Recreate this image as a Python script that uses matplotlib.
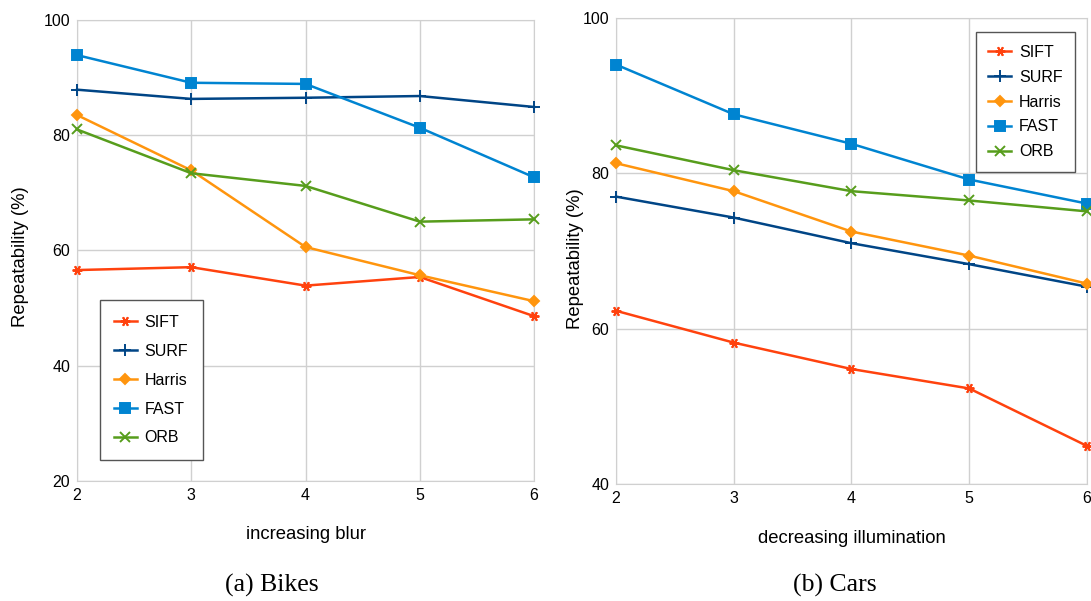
import matplotlib
matplotlib.use("Agg")
import matplotlib.pyplot as plt

plt.rcParams['font.family'] = ['Liberation Sans', 'DejaVu Sans']

x = [2, 3, 4, 5, 6]
names = ["SIFT", "SURF", "Harris", "FAST", "ORB"]

# repeatability (%) per detector, bikes sequence (blur)
bikes_sift = [56.6, 57.1, 53.9, 55.4, 48.6]
bikes_surf = [87.9, 86.3, 86.5, 86.8, 84.9]
bikes_harris = [83.5, 73.9, 60.6, 55.7, 51.2]
bikes_fast = [93.9, 89.1, 88.9, 81.3, 72.7]
bikes_orb = [81.0, 73.4, 71.2, 65.0, 65.4]

# cars sequence (illumination)
cars_sift = [62.3, 58.2, 54.8, 52.3, 44.9]
cars_surf = [77.0, 74.3, 71.0, 68.3, 65.4]
cars_harris = [81.3, 77.7, 72.5, 69.4, 65.8]
cars_fast = [94.0, 87.6, 83.8, 79.2, 76.1]
cars_orb = [83.6, 80.4, 77.7, 76.5, 75.1]

colors = ["#ff420e", "#004586", "#ff950e", "#0084d1", "#579d1c"]
markers = [(6, 2, 90), "+", "D", "s", "x"]
msizes = [7, 9, 5, 6.5, 7]

fig = plt.figure(figsize=(10.91, 6.01), dpi=100)
ax1 = fig.add_axes([0.0706, 0.1997, 0.4189, 0.7671])
ax2 = fig.add_axes([0.5646, 0.1947, 0.4317, 0.7754])


def draw(ax, series, ylim, yticks, xlabel, legend_kw):
    for vals, name, c, m, ms in zip(series, names, colors, markers, msizes):
        ax.plot(x, vals, color=c, marker=m, markersize=ms, lw=1.8,
                mew=1.4, label=name, clip_on=False, zorder=3)
    ax.set_xlim(2, 6)
    ax.set_ylim(*ylim)
    ax.set_xticks(x)
    ax.set_yticks(yticks)
    ax.grid(True, color="#d0d0d0", lw=1)
    for s in ax.spines.values():
        s.set_color("#d0d0d0")
    ax.tick_params(length=0, labelsize=11.5, pad=5)
    ax.set_xlabel(xlabel, fontsize=13.3)
    ax.set_ylabel("Repeatability (%)", fontsize=13.3)
    leg = ax.legend(fancybox=False, edgecolor="#555555", framealpha=1,
                    fontsize=11.5, handlelength=1.4, handletextpad=0.5,
                    borderaxespad=0, **legend_kw)
    leg.get_frame().set_linewidth(1)
    return leg


draw(ax1, [bikes_sift, bikes_surf, bikes_harris, bikes_fast, bikes_orb],
     (20, 100), [20, 40, 60, 80, 100], "increasing blur",
     dict(loc="lower left", bbox_to_anchor=(0.05, 0.046), labelspacing=0.87,
          borderpad=0.9))
draw(ax2, [cars_sift, cars_surf, cars_harris, cars_fast, cars_orb],
     (40, 100), [40, 60, 80, 100], "decreasing illumination",
     dict(loc="upper right", bbox_to_anchor=(0.975, 0.97), labelspacing=0.62,
          borderpad=0.8))

ax1.yaxis.set_label_coords(-0.105, 0.486)
ax1.xaxis.set_label_coords(0.5, -0.097)
ax2.yaxis.set_label_coords(-0.068, 0.483)
ax2.xaxis.set_label_coords(0.5, -0.098)

fig.text(272 / 1091, 1 - 585 / 601, "(a) Bikes", ha="center", va="center",
         fontsize=18.5, family=["Liberation Serif", "DejaVu Serif"])
fig.text(835 / 1091, 1 - 585 / 601, "(b) Cars", ha="center", va="center",
         fontsize=18.5, family=["Liberation Serif", "DejaVu Serif"])

fig.savefig("out.png", dpi=100)
